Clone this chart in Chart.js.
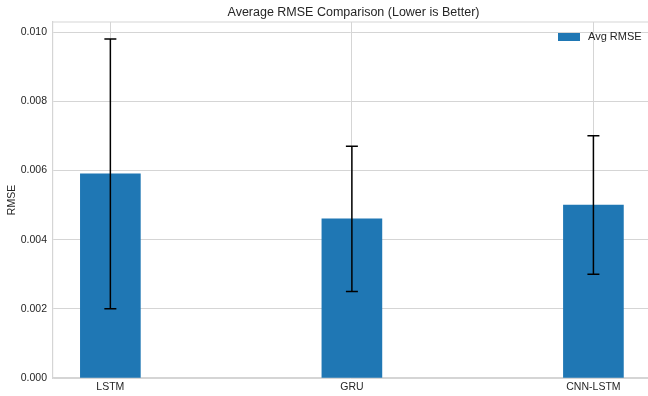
<!DOCTYPE html>
<html>
<head>
<meta charset="utf-8">
<script src="https://cdn.jsdelivr.net/npm/chart.js@4.4.1/dist/chart.umd.min.js"></script>
<style>
  html, body { margin: 0; padding: 0; background: #fff; overflow: hidden; }
  #wrap { width: 648px; height: 396px; position: relative; }
</style>
</head>
<body>
<div id="wrap"><canvas id="rmseChart"></canvas></div>
<script>
// Data
const models = ['LSTM', 'GRU', 'CNN-LSTM'];
const avgRmse = [0.0059, 0.0046, 0.0050];
const rmseLow = [0.0020, 0.0025, 0.0030];
const rmseHigh = [0.0098, 0.0067, 0.0070];
const yTicks = [0.000, 0.002, 0.004, 0.006, 0.008, 0.010];
const chartTitle = 'Average RMSE Comparison (Lower is Better)';

const BAR_COLOR = '#1f77b4';
const GRID_COLOR = '#d5d5d5';
const TEXT_COLOR = '#262626';
const FONT = 'Liberation Sans, Arial, sans-serif';

// Error bars (matplotlib-style with caps)
const errorBarPlugin = {
    id: 'errorBars',
    afterDatasetsDraw(chart) {
        const ctx = chart.ctx;
        const y = chart.scales.y;
        const meta = chart.getDatasetMeta(0);
        ctx.save();
        ctx.strokeStyle = '#000';
        ctx.lineWidth = 1.5;
        meta.data.forEach((bar, i) => {
            const x = bar.x;
            const yl = y.getPixelForValue(rmseLow[i]);
            const yh = y.getPixelForValue(rmseHigh[i]);
            ctx.beginPath();
            ctx.moveTo(x, yl); ctx.lineTo(x, yh);
            ctx.moveTo(x - 6, yl); ctx.lineTo(x + 6, yl);
            ctx.moveTo(x - 6, yh); ctx.lineTo(x + 6, yh);
            ctx.stroke();
        });
        ctx.restore();
    }
};

// Top spine, title centred over the plot area, legend in its upper right corner
const titleAndLegend = {
    id: 'titleAndLegend',
    afterDraw(chart) {
        const ctx = chart.ctx;
        const a = chart.chartArea;
        ctx.save();
        ctx.strokeStyle = GRID_COLOR;
        ctx.lineWidth = 1.2;
        ctx.beginPath();
        ctx.moveTo(a.left, a.top);
        ctx.lineTo(a.right, a.top);
        ctx.stroke();

        ctx.fillStyle = TEXT_COLOR;
        ctx.font = '12.5px ' + FONT;
        ctx.textAlign = 'center';
        ctx.textBaseline = 'middle';
        ctx.fillText(chartTitle, (a.left + a.right) / 2 + 3, 12.5);

        ctx.fillStyle = BAR_COLOR;
        ctx.fillRect(a.right - 90, a.top + 11, 22, 8);
        ctx.fillStyle = TEXT_COLOR;
        ctx.font = '11px ' + FONT;
        ctx.textAlign = 'left';
        ctx.fillText(chart.data.datasets[0].label, a.right - 60, a.top + 15);
        ctx.restore();
    }
};

new Chart(document.getElementById('rmseChart').getContext('2d'), {
    type: 'bar',
    data: {
        datasets: [{
            label: 'Avg RMSE',
            data: avgRmse.map((v, i) => ({ x: i, y: v })),
            backgroundColor: BAR_COLOR,
            borderWidth: 0,
            barThickness: 60
        }]
    },
    options: {
        responsive: true,
        maintainAspectRatio: false,
        animation: false,
        layout: { padding: { top: 22, left: 0, right: 0, bottom: 0 } },
        plugins: {
            legend: { display: false },
            tooltip: { enabled: false },
            title: { display: false }
        },
        scales: {
            x: {
                type: 'linear',
                offset: false,
                min: -0.2375,
                max: 2.226,
                afterBuildTicks: s => { s.ticks = models.map((_, i) => ({ value: i })); },
                afterFit: s => { s.height = 18; },
                ticks: {
                    color: TEXT_COLOR,
                    font: { family: FONT, size: 10.5 },
                    padding: 3,
                    callback: v => models[v]
                },
                grid: { color: GRID_COLOR, drawTicks: false, offset: false },
                border: { color: GRID_COLOR, width: 1.2 }
            },
            y: {
                min: 0,
                max: 0.01029,
                afterBuildTicks: s => { s.ticks = yTicks.map(v => ({ value: v })); },
                afterFit: s => { s.width = 53; },
                ticks: {
                    color: TEXT_COLOR,
                    font: { family: FONT, size: 10.5 },
                    padding: 6,
                    callback: v => v.toFixed(3)
                },
                title: {
                    display: true,
                    text: 'RMSE',
                    color: TEXT_COLOR,
                    font: { family: FONT, size: 10.5 },
                    padding: { top: 6, bottom: 0 }
                },
                grid: { color: GRID_COLOR, drawTicks: false },
                border: { color: GRID_COLOR, width: 1.2 }
            }
        }
    },
    plugins: [errorBarPlugin, titleAndLegend]
});
</script>
</body>
</html>
